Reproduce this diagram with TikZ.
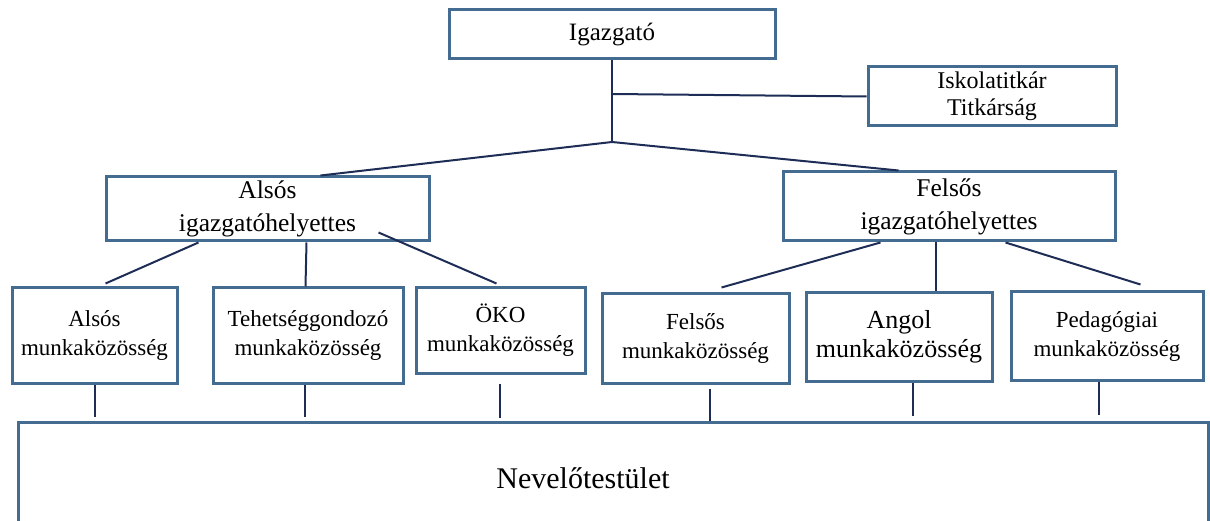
\documentclass[tikz,border=0pt]{standalone}
\usepackage{fontspec}
\setmainfont{Liberation Serif}
\definecolor{boxblue}{RGB}{68,108,145}
\definecolor{linknavy}{RGB}{30,45,85}

\begin{document}
\begin{tikzpicture}[x=1pt,y=-1pt,
  box/.style={draw=boxblue,line width=3pt,rectangle,inner sep=0pt,align=center},
  link/.style={draw=linknavy,line width=2pt},
  big/.style={font=\fontsize{25.5}{33}\selectfont},
  small/.style={font=\fontsize{23}{29}\selectfont}]
\clip (0,0) rectangle (1210,521);
\node[box,font=\fontsize{25}{30}\selectfont,minimum width=326pt,minimum height=49pt] (igaz) at (612,34.5) {\raisebox{-7pt}{Igazgató}};
\node[box,font=\fontsize{24}{27}\selectfont,minimum width=248pt,minimum height=59pt] (titk) at (992,96.5) {\raisebox{-3pt}{Iskolatitkár}\\\raisebox{-3pt}{Titkárság}};
\node[box,big,minimum width=323pt,minimum height=64pt] (alsoh) at (267.5,209) {Alsós\\igazgatóhelyettes};
\node[box,big,minimum width=332pt,minimum height=69pt] (felsoh) at (949,206.5) {Felsős\\igazgatóhelyettes};
\node[box,small,minimum width=165pt,minimum height=95pt] (alsom) at (94.5,335.5) {Alsós\\munkaközösség};
\node[box,small,minimum width=190pt,minimum height=95pt] (tehm) at (308,335.5) {Tehetséggondozó\\munkaközösség};
\node[box,small,minimum width=169pt,minimum height=85pt] (okom) at (500.5,330.5) {ÖKO\\munkaközösség};
\node[box,small,minimum width=187pt,minimum height=89pt] (felsom) at (695.5,338.5) {Felsős\\munkaközösség};
\node[box,font=\fontsize{26}{29}\selectfont,minimum width=186pt,minimum height=88pt] (angm) at (899,337) {Angol\\munkaközösség};
\node[box,small,minimum width=192pt,minimum height=88pt] (pedm) at (1107,336) {Pedagógiai\\munkaközösség};
\node[box,font=\fontsize{30}{36}\selectfont,minimum width=1190pt,minimum height=112pt] (nev) at (613,478) {Nevelőtestület\hspace*{60pt}};
\coordinate (tee) at (612,94);
\coordinate (hub) at (612,142);
\draw[link] (igaz.south) -- (hub);
\draw[link] (tee) -- (titk.west);
\draw[link] (hub) -- ([xshift=216pt]alsoh.north west);
\draw[link] (hub) -- ([xshift=117pt]felsoh.north west);
\draw[link] ([xshift=94pt]alsoh.south west) -- ([xshift=95pt,yshift=3pt]alsom.north west);
\draw[link] ([xshift=202pt]alsoh.south west) -- ([xshift=94pt]tehm.north west);
\draw[link] ([xshift=274pt,yshift=10pt]alsoh.south west) -- ([xshift=82pt,yshift=3pt]okom.north west);
\draw[link] ([xshift=99pt]felsoh.south west) -- ([xshift=121pt,yshift=5pt]felsom.north west);
\draw[link] ([xshift=154pt]felsoh.south west) -- ([xshift=131pt]angm.north west);
\draw[link] ([xshift=224pt]felsoh.south west) -- ([xshift=131pt,yshift=6pt]pedm.north west);
\draw[link] ([xshift=84pt]alsom.south west) -- ([xshift=78pt,yshift=4pt]nev.north west);
\draw[link] ([xshift=93pt]tehm.south west) -- ([xshift=288pt,yshift=4pt]nev.north west);
\draw[link] ([xshift=85pt,yshift=-9pt]okom.south west) -- ([xshift=483pt,yshift=3pt]nev.north west);
\draw[link] ([xshift=109pt,yshift=-4pt]felsom.south west) -- ([xshift=693pt]nev.north west);
\draw[link] ([xshift=108pt]angm.south west) -- ([xshift=896pt,yshift=5pt]nev.north west);
\draw[link] ([xshift=89pt]pedm.south west) -- ([xshift=1082pt,yshift=6pt]nev.north west);
\end{tikzpicture}
\end{document}
